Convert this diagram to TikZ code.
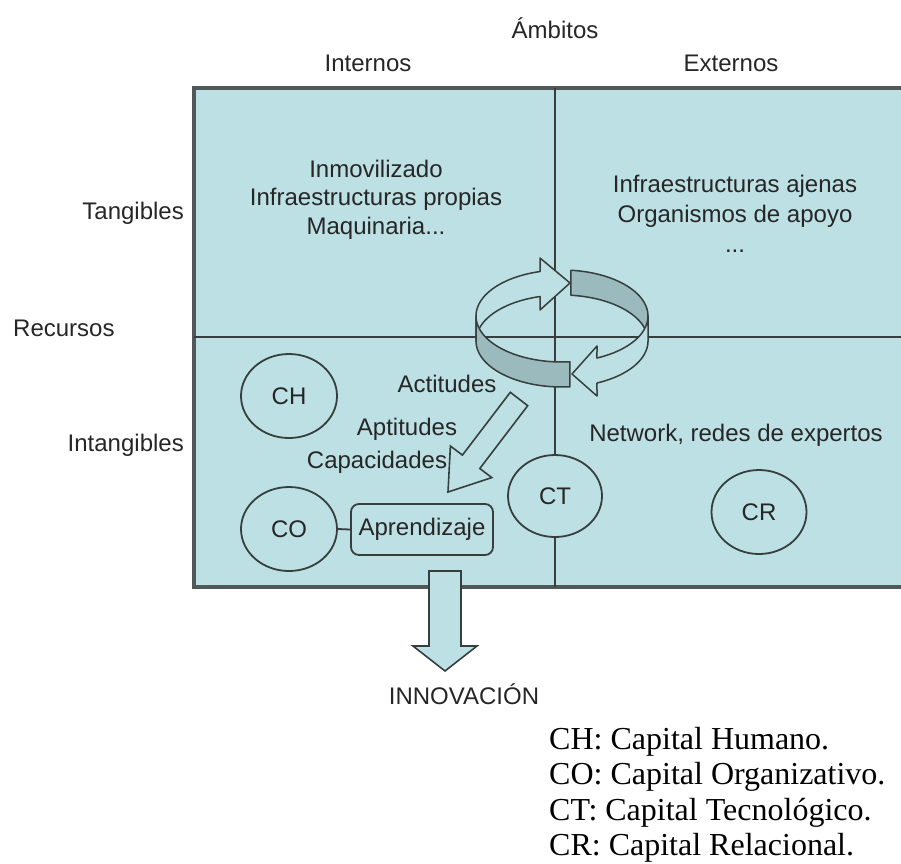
\documentclass[tikz,border=0pt]{standalone}
\usepackage{fontspec}
\setmainfont{Liberation Sans}
\newfontfamily\legendfont{Liberation Serif}
\usetikzlibrary{shapes.geometric}
\definecolor{cellbg}{RGB}{188,224,228}
\definecolor{bandgray}{RGB}{155,186,190}
\definecolor{inkdark}{RGB}{55,62,62}
\definecolor{framedark}{RGB}{80,88,88}
\begin{document}
\begin{tikzpicture}[x=1pt,y=-1pt,
  lbl/.style={font=\fontsize{24}{28}\selectfont, text=black!85, inner sep=0pt},
  celltext/.style={lbl, align=center},
  capital/.style={ellipse, draw=inkdark, line width=1.8pt, fill=cellbg, minimum width=96pt, minimum height=84pt, inner sep=0pt, font=\fontsize{24}{28}\selectfont, text=black!85},
  learnbox/.style={draw=inkdark, line width=1.8pt, rounded corners=8pt, fill=cellbg, minimum width=142pt, minimum height=51pt, inner sep=0pt, font=\fontsize{24}{28}\selectfont, text=black!85},
  ringpart/.style={draw=inkdark, line width=1.5pt, line join=round},
  blockarrow/.style={draw=inkdark, line width=1.6pt, line join=miter},
  legendline/.style={font=\legendfont\fontsize{32}{36}\selectfont, anchor=base west, inner sep=0pt}
]
\useasboundingbox (0,0) rectangle (901,863);
% matrix frame
\fill[cellbg] (194,88) rectangle (901,587);
\draw[framedark, line width=3.5pt] (901,88) -- (194,88) -- (194,587) -- (901,587);
\draw[inkdark, line width=2.5pt] (194,337) -- (901,337);
\draw[inkdark, line width=2pt] (555,88) -- (555,587);

% headings
\node[lbl] (ambitos) at (555,28) {Ámbitos};
\node[lbl] (internos) at (368,63) {Internos};
\node[lbl] (externos) at (731,63) {Externos};
\node[lbl, anchor=east] (tangibles) at (184,213) {Tangibles};
\node[lbl, anchor=west] (recursos) at (13,328) {Recursos};
\node[lbl, anchor=east] (intangibles) at (184,445) {Intangibles};

% cell texts
\node[celltext, font=\fontsize{24}{28.5}\selectfont] (tl) at (376,199.5) {Inmovilizado\\Infraestructuras propias\\Maquinaria...};
\node[celltext, font=\fontsize{24}{30}\selectfont] (tr) at (735,214) {Infraestructuras ajenas\\Organismos de apoyo\\...};
\node[lbl] (network) at (736,435) {Network, redes de expertos};
\node[lbl] (actitudes) at (447,384) {Actitudes};
\node[lbl] (aptitudes) at (407,429) {Aptitudes};
\node[lbl] (capacidades) at (377,462) {Capacidades};

% ring of two arrows (back parts)
\filldraw[ringpart, fill=bandgray]
  plot[domain=0:84, samples=30] ({562+86*cos(\x)},{316-46*sin(\x)})
  -- plot[domain=84:0, samples=30] ({562+86*cos(\x)},{341-46*sin(\x)}) -- cycle;
\filldraw[ringpart, fill=cellbg]
  plot[domain=180:104.8, samples=30] ({562+86*cos(\x)},{316-46*sin(\x)})
  -- (540,258) -- (570,283) -- (540,310)
  -- plot[domain=104.8:180, samples=30] ({562+86*cos(\x)},{341-46*sin(\x)}) -- cycle;
% front parts
\filldraw[ringpart, fill=bandgray]
  plot[domain=180:275.3, samples=30] ({562+86*cos(\x)},{316-46*sin(\x)})
  -- plot[domain=275.3:180, samples=30] ({562+86*cos(\x)},{341-46*sin(\x)}) -- cycle;
\filldraw[ringpart, fill=cellbg]
  plot[domain=360:294, samples=30] ({562+86*cos(\x)},{316-46*sin(\x)})
  -- (597,346) -- (572,374) -- (597,396)
  -- plot[domain=294:360, samples=30] ({562+86*cos(\x)},{341-46*sin(\x)}) -- cycle;

% diagonal arrow
\draw[blockarrow] (527.7,405.7) -- (479.8,468.5) -- (491.8,477.6) -- (448,492)
  -- (450.4,446.0) -- (462.4,455.1) -- (510.3,392.3) -- cycle;

% capitals
\node[capital] (CH) at (289,396) {CH};
\node[capital] (CO) at (289,529) {CO};
\node[capital, minimum width=94pt, minimum height=82pt] (CT) at (555,496) {CT};
\node[capital, minimum width=95pt] (CR) at (759,512) {CR};
\node[learnbox] (apr) at (422,529.5) {Aprendizaje};
\draw[inkdark, line width=1.8pt] (CO.east) -- (apr.west);

% innovation arrow
\filldraw[blockarrow, fill=cellbg] (429,571) -- (429,646) -- (413,646) -- (445,671)
  -- (477,646) -- (461,646) -- (461,571) -- cycle;
\node[lbl] (innov) at (464,694) {INNOVACIÓN};

% legend
\node[legendline] (lgCH) at (549,749) {CH: Capital Humano.};
\node[legendline] (lgCO) at (549,784.5) {CO: Capital Organizativo.};
\node[legendline] (lgCT) at (549,820) {CT: Capital Tecnológico.};
\node[legendline] (lgCR) at (549,855) {CR: Capital Relacional.};
\end{tikzpicture}
\end{document}
